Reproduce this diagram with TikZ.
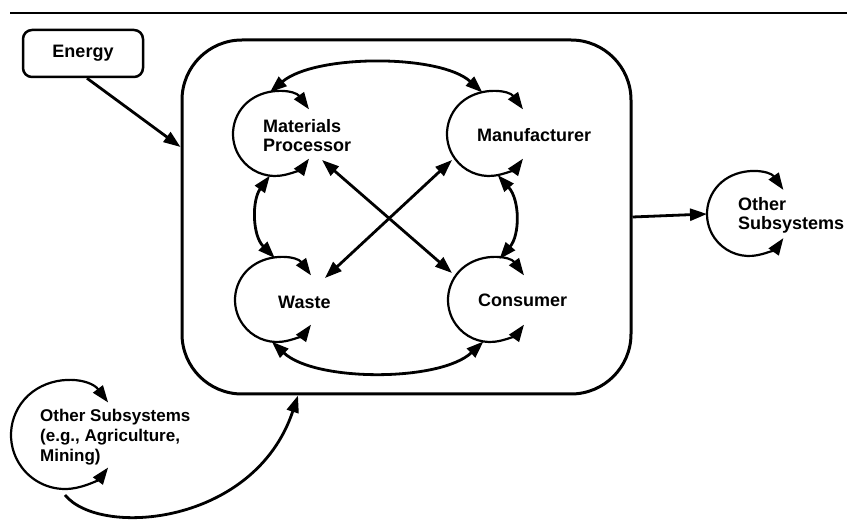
\documentclass[tikz,border=0pt]{standalone}
\usepackage{fontspec}
\setmainfont{Liberation Sans}
\usetikzlibrary{arrows.meta,calc}

\begin{document}
\begin{tikzpicture}[x=1pt,y=1pt,
  tip/.tip={Triangle[length=17pt,width=12pt]},
  txt/.style={font=\fontsize{18}{19}\selectfont\bfseries, align=left, inner sep=0pt, anchor=west},
  ring/.style={circle, minimum size=84pt, inner sep=0pt, outer sep=0pt},
  cyc/.style={line width=2.2pt, tip-tip},
  link/.style={line width=2.8pt, tip-tip},
  flow/.style={line width=2.8pt, -tip},
]
\useasboundingbox (0,0) rectangle (847,520);

% rule across the top
\draw[line width=2pt] (10,507) -- (847,507);

% energy input and the enclosing system
\node[draw, line width=2.5pt, rounded corners=9pt, minimum width=120pt,
      minimum height=47pt, font=\fontsize{18}{19}\selectfont\bfseries] (energy) at (83,466.5) {Energy};
\node[draw, line width=3pt, rounded corners=60pt, minimum width=449pt,
      minimum height=354pt] (sys) at (406.5,303) {};

% cycle rings
\node[ring] (mp) at (275,386) {};
\node[ring] (mf) at (489,386) {};
\node[ring] (wa) at (277,220) {};
\node[ring] (co) at (490,220) {};
\node[ring] (os) at (749,306) {};
\node[ring, minimum size=108pt] (ob) at (65,85) {};

\draw[cyc] (mp.36) arc[start angle=36, end angle=324, radius=42];
\draw[cyc] (mf.36) arc[start angle=36, end angle=324, radius=42];
\draw[cyc] (wa.36) arc[start angle=36, end angle=324, radius=42];
\draw[cyc] (co.36) arc[start angle=36, end angle=324, radius=42];
\draw[cyc] (os.35) arc[start angle=35, end angle=325, radius=42];
\draw[cyc] (ob.37) arc[start angle=37, end angle=323, radius=54];

% labels
\node[txt] (mpt) at (263,384) {Materials\\Processor};
\node[txt] (mft) at (477,385) {Manufacturer};
\node[txt] (wat) at (278,218) {Waste};
\node[txt] (cot) at (478,220) {Consumer};
\node[txt] (ost) at (738,305) {Other\\Subsystems};
\node[txt, font=\fontsize{17}{20}\selectfont\bfseries] (obt) at (40,83)
  {Other Subsystems\\(e.g., Agriculture,\\Mining)};

% exchanges between the four stages
\draw[link] (mp.97) .. controls (315,466) and (440,466) .. (mf.99);
\draw[link] (wa.-97) .. controls (315,138) and (440,138) .. (co.-99);
\draw[link] (mp.-97) .. controls (252,320) and (252,285) .. (wa.93);
\draw[link] (mf.-78) .. controls (520,320) and (520,285) .. (co.77);
\draw[link] ([shift={(47,-26)}]mp.center) -- ([shift={(-38,27)}]co.center);
\draw[link] ([shift={(-37,-26)}]mf.center) -- ([shift={(48,22)}]wa.center);

% flows in and out of the system
\draw[flow] ([xshift=4pt]energy.south) -- ([yshift=70pt]sys.west);
\draw[flow] (sys.east) -- (os.west);
\draw[flow] ([yshift=-6pt]ob.south) .. controls (100,-18) and (255,-5) .. ([xshift=-108.5pt]sys.south);
\end{tikzpicture}
\end{document}
